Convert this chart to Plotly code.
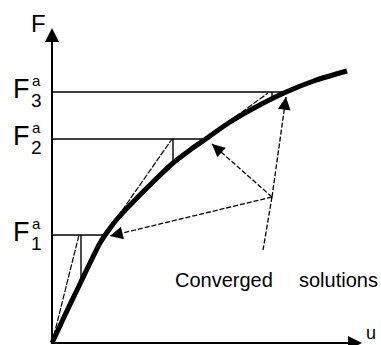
import plotly.graph_objects as go

# Load-displacement curve (u, F)
u_curve = [0, 1.3, 2.6, 3.8, 4.8, 5.6, 6.6, 8.1, 10.1, 12.1, 13.8, 15.3,
           17.8, 20.3, 23.3, 26.3, 29.5]
F_curve = [0, 2.8, 5.5, 8.0, 10.0, 11.2, 12.5, 14.1, 16.1, 18.0, 19.3, 20.35,
           22.1, 23.55, 25.05, 26.25, 27.2]

# Applied load levels and converged displacements
F_levels = [10.8, 20.4, 25.1]
u_converged = [5.3, 15.3, 23.4]
level_digits = ["1", "2", "3"]

# Newton iterations: tangent predictor end points and corrector drops
tangent_start_u = [0.0, 5.3, 15.3]
tangent_start_F = [0.0, 10.8, 20.4]
tangent_end_u = [2.7, 12.0, 21.6]
tangent_end_F = [10.8, 20.4, 25.0]
corrector_u = [2.9, 12.1, 22.0]
corrector_F_low = [6.0, 17.9, 24.6]

# "Converged solutions" pointer hub, arrow tips and leader end
hub = (22.0, 14.6)
arrow_tips = [(5.8, 10.7), (16.0, 19.9), (23.4, 24.6)]
leader_end = (21.1, 9.3)

FONT = "Liberation Sans, Arial, sans-serif"
thin = dict(color="black", width=1.2, dash="6px,1.5px")
pointer = dict(color="black", width=1.3, dash="5px,2px")

fig = go.Figure()

# Load level lines
for Fl, uc in zip(F_levels, u_converged):
    fig.add_trace(go.Scatter(x=[0, uc], y=[Fl, Fl], mode="lines",
                             line=dict(color="black", width=1.6)))

# Tangent predictors and vertical correctors
for i in range(3):
    fig.add_trace(go.Scatter(x=[tangent_start_u[i], tangent_end_u[i]],
                             y=[tangent_start_F[i], tangent_end_F[i]],
                             mode="lines", line=thin))
    fig.add_trace(go.Scatter(x=[corrector_u[i], corrector_u[i]],
                             y=[F_levels[i], corrector_F_low[i]],
                             mode="lines", line=dict(color="black", width=1.4)))

# Pointer lines to the converged states
for tx, ty in arrow_tips:
    fig.add_trace(go.Scatter(x=[hub[0], tx], y=[hub[1], ty], mode="lines", line=pointer))
fig.add_trace(go.Scatter(x=[hub[0], leader_end[0]], y=[hub[1], leader_end[1]],
                         mode="lines", line=pointer))

# Equilibrium path
fig.add_trace(go.Scatter(x=u_curve, y=F_curve, mode="lines",
                         line=dict(color="black", width=5, shape="spline",
                                   smoothing=0.8)))

# Axes
fig.add_trace(go.Scatter(x=[0, 0, 30.6], y=[31.0, 0, 0], mode="lines",
                         line=dict(color="black", width=2)))

annotations = []
# Axis arrowheads
annotations.append(dict(x=0, y=31.5, ax=0, ay=29.0, xref="x", yref="y",
                        axref="x", ayref="y", text="", showarrow=True,
                        arrowhead=2, arrowsize=1.4, arrowwidth=2, arrowcolor="black"))
annotations.append(dict(x=31.0, y=0, ax=28.5, ay=0, xref="x", yref="y",
                        axref="x", ayref="y", text="", showarrow=True,
                        arrowhead=2, arrowsize=1.4, arrowwidth=2, arrowcolor="black"))
# Pointer arrowheads
for tx, ty in arrow_tips:
    dx, dy = hub[0] - tx, hub[1] - ty
    n = (dx ** 2 + dy ** 2) ** 0.5
    annotations.append(dict(x=tx, y=ty, ax=tx + dx / n * 1.2, ay=ty + dy / n * 1.2,
                            xref="x", yref="y", axref="x", ayref="y", text="",
                            showarrow=True, arrowhead=2, arrowsize=1.7,
                            arrowwidth=1.5, arrowcolor="black"))

# Axis titles
annotations.append(dict(x=-1.4, y=32.0, text="F", showarrow=False,
                        font=dict(family=FONT, size=24, color="black")))
annotations.append(dict(x=31.9, y=-0.2, yanchor="bottom", text="u", showarrow=False,
                        font=dict(family=FONT, size=18, color="black")))

# Load level labels F^a_i
for Fl, d in zip(F_levels, level_digits):
    annotations.append(dict(x=-3.05, y=Fl + 0.3, text="F", showarrow=False,
                            font=dict(family=FONT, size=27, color="black")))
    annotations.append(dict(x=-1.55, y=Fl + 1.2, text="a", showarrow=False,
                            font=dict(family=FONT, size=15, color="black")))
    annotations.append(dict(x=-1.55, y=Fl - 0.8, text=d, showarrow=False,
                            font=dict(family=FONT, size=19, color="black")))

annotations.append(dict(x=17.2, y=6.3, text="Converged", showarrow=False,
                        font=dict(family=FONT, size=20, color="black")))
annotations.append(dict(x=28.6, y=6.3, text="solutions", showarrow=False,
                        font=dict(family=FONT, size=20, color="black")))

fig.update_layout(
    width=381, height=345,
    margin=dict(l=0, r=0, t=0, b=0),
    paper_bgcolor="white", plot_bgcolor="white",
    showlegend=False,
    xaxis=dict(range=[-5.2, 32.9], visible=False, fixedrange=True),
    yaxis=dict(range=[-0.2, 34.3], visible=False, fixedrange=True),
    annotations=annotations,
)

fig.write_html("out.html")
